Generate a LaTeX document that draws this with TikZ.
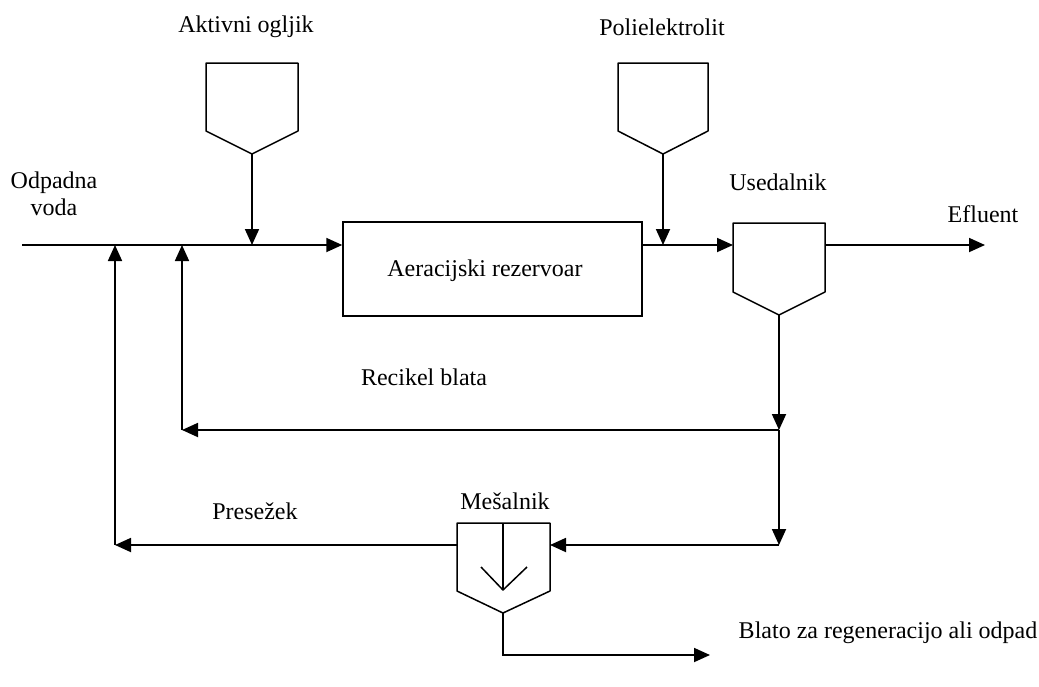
\documentclass[tikz,border=0pt]{standalone}
\usepackage{fontspec}
\setmainfont{Liberation Serif}
\usetikzlibrary{arrows.meta}
\begin{document}
\begin{tikzpicture}[x=1pt,y=-1pt,
  line width=1.8pt,
  flow/.style={-{Triangle[length=16pt,width=14pt]}},
  lbl/.style={font=\fontsize{24}{27}\selectfont, inner sep=0pt},
  vessel/.style={line width=1.5pt, line join=round}]
\useasboundingbox (0,0) rectangle (1039,686);

% feed hoppers
\draw[vessel] (206,63) -- (298,63) -- (298,131) -- (252,154) -- (206,131) -- cycle;
\draw[vessel] (618,63) -- (708,63) -- (708,131) -- (663,154) -- (618,131) -- cycle;
\coordinate (hopA) at (252,154);
\coordinate (hopP) at (663,154);

% aeration tank
\node[draw, line width=1.5pt, minimum width=299pt, minimum height=94pt, inner sep=0pt] (tank) at (492.5,269) {};
\node[lbl] (tanklbl) at (485,271) {Aeracijski rezervoar};

% settler
\draw[vessel] (733,223) -- (825,223) -- (825,292) -- (779,315) -- (733,292) -- cycle;
\coordinate (setIn) at (733,245);
\coordinate (setOut) at (825,245);
\coordinate (setBot) at (779,315);

% mixer
\draw[vessel] (457,523) -- (550,523) -- (550,591) -- (503,613) -- (457,591) -- cycle;
\draw[vessel] (503,523) -- (503,590);
\draw[vessel] (481,567) -- (503,590) -- (527,567);
\coordinate (mixIn) at (550,545);
\coordinate (mixOut) at (457,545);
\coordinate (mixBot) at (503,613);

% junction points
\coordinate (inlet) at (22,245);
\coordinate (jA) at (252,245);
\coordinate (jP) at (663,245);
\coordinate (jR) at (182,245);
\coordinate (jE) at (115,245);
\coordinate (split) at (779,430);
\coordinate (recEnd) at (182,430);
\coordinate (down2) at (779,545);
\coordinate (excEnd) at (115,545);
\coordinate (sludge) at (503,655);
\coordinate (sludgeEnd) at (710,655);
\coordinate (effEnd) at (985,245);

% main line
\draw[flow] (inlet) -- (tank.west |- inlet);
\draw[flow] (hopA) -- (jA);
\draw[flow] (tank.east |- setIn) -- (setIn);
\draw[flow] (hopP) -- (jP);
\draw[flow] (setOut) -- (effEnd);

% sludge recycle
\draw[flow] (setBot) -- (split);
\draw[flow] (split) -- (recEnd);
\draw[flow] (recEnd) -- (jR);

% excess sludge via mixer
\draw[flow] (split) -- (down2);
\draw[flow] (down2) -- (mixIn);
\draw[flow] (mixOut) -- (excEnd);
\draw[flow] (excEnd) -- (jE);
\draw[flow] (mixBot) -- (sludge) -- (sludgeEnd);

% labels
\node[lbl] (lA) at (246,27) {Aktivni ogljik};
\node[lbl] (lP) at (662,27) {Polielektrolit};
\node[lbl, align=center] (lIn) at (54,194) {Odpadna\\voda};
\node[lbl] (lS) at (778,182) {Usedalnik};
\node[lbl] (lE) at (983,214) {Efluent};
\node[lbl] (lR) at (424,377) {Recikel blata};
\node[lbl] (lM) at (505,501) {Mešalnik};
\node[lbl] (lX) at (255,511) {Presežek};
\node[lbl] (lB) at (888,633) {Blato za regeneracijo ali odpad};
\end{tikzpicture}
\end{document}
